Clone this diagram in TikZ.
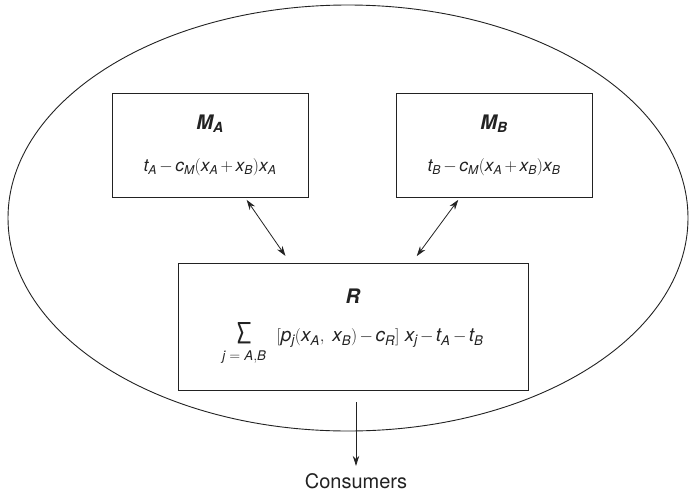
\documentclass[tikz,border=0pt]{standalone}
\usepackage{mathspec}
\setmainfont{TeX Gyre Heros}
\setmathsfont(Digits,Latin){TeX Gyre Heros}
\usetikzlibrary{arrows.meta,positioning,calc}
\definecolor{ink}{HTML}{222222}
\newcommand{\boxtitle}[2]{{\fontsize{20}{22}\selectfont\bfseries\itshape #1\textsubscript{#2}}}
\newcommand{\bigsum}{\mathop{\hbox{\fontsize{25}{26}\selectfont ∑}}}

\begin{document}
\begin{tikzpicture}[x=1pt,y=-1pt,
  every node/.style={font=\fontsize{17.5}{22}\selectfont,text=ink},
  player/.style={draw=ink,line width=0.9pt,minimum width=196pt,minimum height=104pt,
    align=center,inner sep=0pt,execute at begin node={\medmuskip=2.5mu}},
  link/.style={{Stealth[length=10pt,width=6.5pt]}-{Stealth[length=10pt,width=6.5pt]},line width=0.8pt,draw=ink},
  flow/.style={-{Stealth[length=10pt,width=6.5pt]},line width=0.8pt,draw=ink}]
\useasboundingbox (0,0) rectangle (691,493);
\draw[ink,line width=0.9pt] (348,218) ellipse (340 and 213);
\node[player] (ma) at (210,145) {\boxtitle{M}{A}\\[20pt]
  $t_A - c_M(x_A + x_B)x_A$};
\node[player] (mb) at (494,145) {\boxtitle{M}{B}\\[20pt]
  $t_B - c_M(x_A + x_B)x_B$};
\node[player,minimum width=350pt,minimum height=127pt] (r) at (353,326.5)
  {\boxtitle{R}{}\\[15pt]
  \fontsize{19}{22}\selectfont
  $\bigsum\limits_{\rule{0pt}{15pt}j\;=\;A,B}\ \ [p_j(x_A,\;x_B) - c_R]\ x_j - t_A - t_B$};
\node[font=\fontsize{20}{24}\selectfont] (cons) at (356,481) {Consumers};
\draw[link,shorten <=3pt,shorten >=8pt] ([xshift=35]ma.south) -- ([xshift=-63]r.north);
\draw[link,shorten <=3pt,shorten >=8pt] ([xshift=-34]mb.south) -- ([xshift=59]r.north);
\draw[flow,shorten <=12pt,shorten >=4pt] ([xshift=3]r.south) -- (cons.north);
\end{tikzpicture}
\end{document}
